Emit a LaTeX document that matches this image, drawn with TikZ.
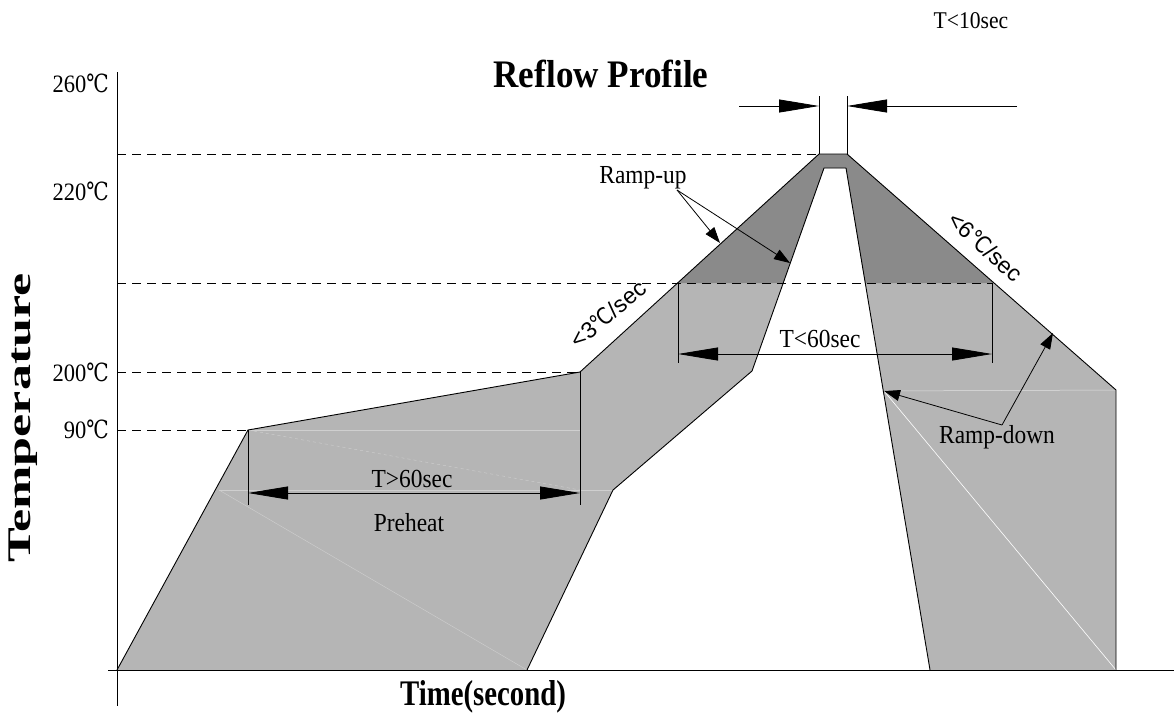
\documentclass[tikz,border=0pt]{standalone}
\usepackage{fontspec}
\setmainfont{Liberation Serif}
\setsansfont{Liberation Sans}
\newfontfamily\narrowrm[FakeStretch=0.9]{Liberation Serif}
\newfontfamily\axisrm[FakeStretch=0.8]{Liberation Serif}
\newfontfamily\degfont[FakeStretch=0.8]{DejaVu Serif}
\newfontfamily\degsans[FakeStretch=0.85]{DejaVu Sans}
\usetikzlibrary{arrows.meta}

\newcommand{\degC}{{\degfont ℃}}
\newcommand{\degCs}{{\degsans ℃}}

\definecolor{lightfill}{gray}{0.71}
\definecolor{darkfill}{gray}{0.54}

\tikzset{
  outline/.style={black, line width=0.9pt, line join=round},
  axisline/.style={black, line width=0.9pt},
  guide/.style={black, line width=0.8pt, dash pattern=on 9pt off 6pt},
  extline/.style={black, line width=0.8pt},
  bigtip/.tip={Triangle[length=40pt,width=13pt]},
  smalltip/.tip={Triangle[length=16pt,width=11pt]},
  dimline/.style={black, line width=0.8pt, bigtip-bigtip},
  lbl/.style={font=\fontsize{26}{28}\selectfont\narrowrm, inner sep=0pt, anchor=base},
  ticklbl/.style={font=\fontsize{25}{27}\selectfont\narrowrm, inner sep=0pt, anchor=base east},
  slopelbl/.style={font=\fontsize{23}{25}\selectfont\sffamily, inner sep=0pt},
  faint/.style={white!35!lightfill, line width=0.4pt}
}

\begin{document}
\begin{tikzpicture}[x=1pt,y=-1pt]
  \useasboundingbox (0,0) rectangle (1174,715);

  % profile
  \coordinate (o)   at (117,670);
  \coordinate (p1)  at (248,430);
  \coordinate (p2)  at (580,372);
  \coordinate (pk1) at (819,154);
  \coordinate (pk2) at (847,154);
  \coordinate (p3)  at (1116,390);
  \coordinate (p4)  at (1116,670);
  \coordinate (q1)  at (930,670);
  \coordinate (qk2) at (846,168);
  \coordinate (qk1) at (824,168);
  \coordinate (q2)  at (752,371);
  \coordinate (q3)  at (613,490);
  \coordinate (q4)  at (527,670);

  \fill [lightfill] (o) -- (p1) -- (p2) -- (pk1) -- (pk2) -- (p3) -- (p4) -- (q1) -- (qk2) -- (qk1) -- (q2) -- (q3) -- (q4) -- cycle;
  \fill [darkfill] (678,283) -- (pk1) -- (pk2) -- (994,283) -- (865,283) -- (qk2) -- (qk1) -- (783,283) -- cycle;

  \draw [faint] (p1) -- (p2 |- p1);
  \draw [faint, dashed] (p1) -- (580,490);
  \draw [faint] (219,490) -- (q3);
  \draw [faint] (219,490) -- (q4);
  \draw [white!60!lightfill, line width=0.5pt] (884,391) -- (p3);
  \draw [white, line width=0.6pt] (884,391) -- (p4);

  \draw [outline] (o) -- (p1) -- (p2) -- (pk1) -- (pk2) -- (p3) -- (p4);
  \draw [outline] (q4) -- (q3) -- (q2) -- (qk1) -- (qk2) -- (q1);

  % axes and guides
  \draw [axisline] (117,72) -- (117,706);
  \draw [axisline] (108,670) -- (1174,670);
  \draw [guide] (117,154) -- (pk1);
  \draw [guide] (117,283) -- (992,283);
  \draw [guide] (117,372) -- (p2);
  \draw [guide] (117,430) -- (p1);

  \node [ticklbl] (t260) at (109,92)  {260\degC};
  \node [ticklbl] (t220) at (109,200) {220\degC};
  \node [ticklbl] (t200) at (109,381) {200\degC};
  \node [ticklbl] (t90)  at (109,438) {90\degC};

  % preheat
  \coordinate (ph1) at (248,493);
  \coordinate (ph2) at (580,493);
  \draw [extline] (p1) -- (248,505);
  \draw [extline] (p2) -- (580,505);
  \draw [dimline] (ph1) -- (ph2);
  \node [lbl] (tpre) at (412,487) {T>60sec};
  \node [lbl] (pre)  at (409,531) {Preheat};

  % reflow time
  \coordinate (rf1) at (678,354);
  \coordinate (rf2) at (992,354);
  \draw [extline] (678,283) -- (678,363);
  \draw [extline] (992,283) -- (992,363);
  \draw [dimline] (rf1) -- (rf2);
  \node [lbl] (trf) at (820,347) {T<60sec};

  % peak time
  \coordinate (pt1) at (739,106);
  \coordinate (pt2) at (819,106);
  \coordinate (pt3) at (847,106);
  \coordinate (pt4) at (1017,106);
  \draw [extline] (819,96) -- (pk1);
  \draw [extline] (847,96) -- (pk2);
  \draw [extline, -bigtip] (pt1) -- (pt2);
  \draw [extline, -bigtip] (pt4) -- (pt3);
  \node [lbl, font=\fontsize{24}{26}\selectfont\narrowrm] (tpk) at (971,28) {T<10sec};

  % ramps
  \node [lbl] (rup) at (643,183) {Ramp-up};
  \coordinate (rupf) at (677,190);
  \coordinate (ru1) at (720,243);
  \coordinate (ru2) at (790,263);
  \draw [extline, -smalltip] (rupf) -- (ru1);
  \draw [extline, -smalltip] (rupf) -- (ru2);

  \node [lbl] (rdown) at (997,443) {Ramp-down};
  \coordinate (rdf) at (1002,425);
  \coordinate (rd1) at (884,391);
  \coordinate (rd2) at (1053,333);
  \draw [extline, -smalltip] (rdf) -- (rd1);
  \draw [extline, -smalltip] (rdf) -- (rd2);

  \node [slopelbl, rotate=40]  (sl3) at (608,314) {<3\degCs/sec};
  \node [slopelbl, rotate=-42] (sl6) at (986,247) {<6\degCs/sec};

  % titles
  \node [inner sep=0pt, anchor=base, font=\fontsize{39}{42}\selectfont\bfseries\narrowrm] (title) at (601,87) {Reflow Profile};
  \node [inner sep=0pt, anchor=base, font=\fontsize{36}{40}\selectfont\bfseries\axisrm] (xlab) at (483,705) {Time(second)};
  \node [inner sep=0pt, rotate=90, font=\fontsize{33}{36}\selectfont\bfseries] (ylab) at (23,418) {\scalebox{1.58}[1]{Temperature}};
\end{tikzpicture}
\end{document}
